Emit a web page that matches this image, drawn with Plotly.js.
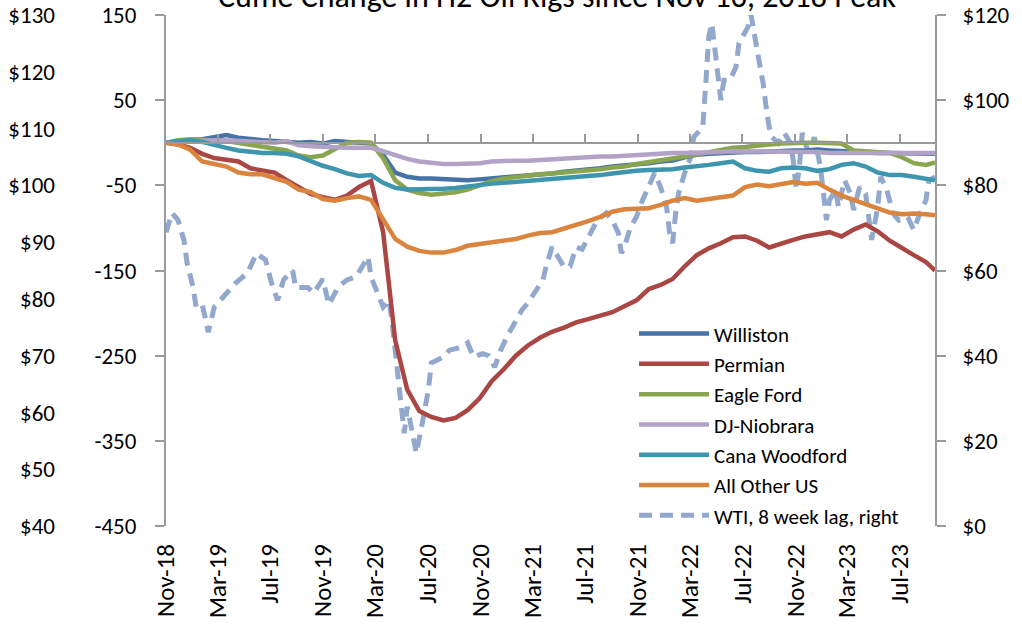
<!DOCTYPE html>
<html>
<head>
<meta charset="utf-8">
<script src="https://cdn.plot.ly/plotly-3.0.1.min.js"></script>
<style>html,body{margin:0;padding:0;background:#fff;}#chart{width:1022px;height:625px;}</style>
</head>
<body>
<div id="chart"></div>
<script>
// ---- Data (weeks since Nov 16, 2018) ----
const rigWeeks = [0,4,8,12,16,20,24,28,32,36,40,44,48,52,56,60,64,68,72,76,80,84,88,92,96,100,104,108,112,116,120,124,128,132,136,140,144,148,152,156,160,164,168,172,176,180,184,188,192,196,200,204,208,212,216,220,224,228,232,236,240,244,248,252,255];

const williston = [0,2,3,4,7,9,6,4,3,2,1,0,1,-1,2,1,0,-1,
  -14,-35,-40,-42,-42,-43,-43,-44,-43,-42,-41,-40,-39,
  -37,-36,-34,-33,-31,-30,-28,-27,-25,-24,-22,-21,-17,
  -14,-13,-12,-12,-11,-11,-10,-10,-9,-9,
  -8,-9,-10,-10,-11,-12,-12,-12,-13,-13,-13];

const permian = [0,-2,-6,-13,-18,-20,-22,-30,-32,-35,-44,-52,-60,-64,-67,-62,-52,-45,
  -105,-232,-290,-315,-322,-326,-323,-314,-300,-280,-266,-250,-238,
  -229,-222,-217,-211,-207,-203,-199,-192,-185,-172,-167,-160,-145,
  -132,-124,-118,-111,-110,-115,-123,-118,-114,-110,
  -107,-105,-110,-102,-96,-104,-115,-124,-132,-140,-150];

const eagleFord = [0,3,4,4,3,2,0,-3,-5,-7,-9,-15,-17,-15,-8,0,1,0,
  -18,-44,-55,-59,-61,-60,-58,-55,-50,-45,-42,-40,-39,
  -37,-36,-35,-34,-32,-31,-29,-28,-25,-23,-21,-19,-17,
  -14,-11,-8,-6,-5,-3,-2,-1,0,0,
  0,0,-1,-9,-10,-10,-12,-17,-24,-26,-23];

const djNiobrara = [0,1,2,3,3,3,2,2,1,0,2,-3,-4,-5,-5,-6,-6,-6,
  -10,-15,-19,-22,-24,-25,-25,-25,-24,-22,-21,-21,-21,
  -20,-20,-19,-18,-17,-16,-16,-15,-14,-14,-13,-12,-12,
  -12,-11,-11,-10,-10,-10,-10,-10,-11,-11,
  -11,-12,-12,-12,-13,-13,-12,-12,-12,-12,-12];

const canaWoodford = [0,2,3,1,-3,-6,-9,-11,-12,-12,-13,-16,-22,-27,-31,-36,-39,-38,
  -47,-53,-55,-55,-55,-54,-53,-51,-49,-48,-47,-46,-45,
  -44,-43,-42,-41,-40,-38,-36,-34,-33,-32,-32,-31,-29,
  -28,-26,-24,-22,-30,-33,-34,-30,-29,-30,
  -33,-31,-26,-24,-28,-35,-38,-38,-40,-43,-44];

const allOtherUS = [0,-2,-8,-22,-25,-28,-35,-37,-37,-42,-46,-55,-58,-66,-68,-65,-63,-67,
  -90,-113,-122,-127,-129,-129,-126,-121,-119,-117,-114,-113,-109,
  -106,-105,-101,-97,-92,-87,-81,-78,-77,-77,-73,-68,-65,
  -68,-66,-64,-62,-52,-49,-51,-48,-46,-48,
  -47,-55,-62,-67,-72,-76,-82,-84,-83,-84,-85];

const wtiWeeks = [0,2,4,6,7,9,10,12,13,14,16,20,23,27,30,31,33,35,37,39,42,43,47,49,52,54,57,60,63,67,68,72,74,75,76,77,78,79,80,81,83,85,87,88,92,94,98,100,102,105,107,109,111,113,116,118,120,122,125,126,128,130,132,134,136,138,141,143,146,148,150,151,152,154,156,158,161,162,164,166,167,168,169,170,172,174,175,178,179,180,181,182,183,184,185,187,189,190,193,194,197,198,199,200,201,203,205,207,208,209,210,211,213,214,215,217,218,219,220,222,223,225,227,228,230,232,233,234,236,237,239,240,241,243,246,248,250,252,253,255];
const wti = [69,73.5,71.8,67,61.7,56,51.4,52,49,45.5,51.4,54.7,57,59.4,64,63.5,62.5,57,53,57.8,60,56,56,54.7,58,52,56,57.8,58.5,63.2,58.5,51.4,53,47.7,41.3,36,27.2,21.8,28,24,17.1,24.2,32,38.3,39.7,41.3,42,43,39.7,40.5,40,37.3,41.3,44.4,48.4,50.7,52.4,54.7,57.8,60.8,65.5,63.2,60.8,61,65.5,65,68.8,71.8,73.5,71.8,68.8,64.1,65.5,70.2,72.6,76.5,81.2,82.9,79.6,74.9,68.8,66.4,73.5,78.2,82.9,86.6,91.3,93.7,104,115,118,111.8,107,100,104.7,104.7,107.8,113.4,117.2,120,107.8,104,98.4,93.7,91.3,89.9,92.3,90,85.9,78.9,84.3,92.3,87.6,89,91.3,84.3,78.2,71.8,76.5,78.9,74.9,81.2,78,74.2,79.6,78,72.6,67.2,74.9,82,79,76.5,73.5,71.8,72.5,69.5,73.5,76.5,81.2,82];

const tickDates = ['2018-11-16','2019-03-16','2019-07-16','2019-11-16','2020-03-16','2020-07-16','2020-11-16','2021-03-16','2021-07-16','2021-11-16','2022-03-16','2022-07-16','2022-11-16','2023-03-16','2023-07-16'];
const tickLabels = ['Nov-18','Mar-19','Jul-19','Nov-19','Mar-20','Jul-20','Nov-20','Mar-21','Jul-21','Nov-21','Mar-22','Jul-22','Nov-22','Mar-23','Jul-23'];
const rigTickVals = [150, 50, -50, -150, -250, -350, -450];
const rigTickText = ['150', '50', '-50', '-150', '-250', '-350', '-450'];

const seriesNames = ['Williston','Permian','Eagle Ford','DJ-Niobrara','Cana Woodford','All Other US'];
const seriesValues = [williston, permian, eagleFord, djNiobrara, canaWoodford, allOtherUS];
const seriesColors = ['#4572A7','#AA4643','#89A54E','#B3A2C7','#3D96AE','#DB843D'];
const wtiName = 'WTI, 8 week lag, right';
const titleText = 'Cume Change in H2 Oil Rigs since Nov 16, 2018 Peak';

// ---- Build ----
const startMs = Date.UTC(2018, 10, 16);
const toDate = w => new Date(startMs + w * 7 * 86400000).toISOString().slice(0, 10);
const rigDates = rigWeeks.map(toDate);
const wtiDates = wtiWeeks.map(toDate);

const FONT = 'Carlito, Calibri, Lato, "Open Sans", sans-serif';
const GRAY = '#9a9a9a';

const traces = seriesNames.map((n, i) => ({
  type: 'scatter', mode: 'lines', name: n,
  x: rigDates, y: seriesValues[i], xaxis: 'x2', yaxis: 'y',
  line: {color: seriesColors[i], width: 4.5}
}));
traces.push({
  type: 'scatter', mode: 'lines', name: wtiName,
  x: wtiDates, y: wti, xaxis: 'x', yaxis: 'y2',
  line: {color: '#92A8CD', width: 5, dash: '13px,8px'}
});
traces.push({type: 'scatter', mode: 'lines', x: [], y: [], xaxis: 'x', yaxis: 'y3', showlegend: false, hoverinfo: 'skip'});

const xDomain = [(166 - 55) / 880, 1];
const xRange = ['2018-11-16', '2023-10-06'];

const layout = {
  width: 1022, height: 625,
  margin: {l: 55, r: 87, t: 15, b: 99, pad: 0},
  paper_bgcolor: '#ffffff', plot_bgcolor: 'rgba(0,0,0,0)',
  font: {family: FONT, size: 22, color: '#000'},
  showlegend: true,
  title: {text: titleText, font: {family: FONT, size: 32, color: '#000'},
          x: 0.545, xanchor: 'center', xref: 'container', y: 1, yref: 'paper', yanchor: 'bottom', pad: {b: 8}},
  xaxis: {
    type: 'date', domain: xDomain, range: xRange, anchor: 'y',
    tickmode: 'array', tickvals: tickDates, ticktext: tickLabels, tickangle: -90,
    ticks: '', showline: false, showgrid: false, zeroline: false,
    tickfont: {family: FONT, size: 25, color: '#000'}, ticklabelstandoff: 12
  },
  xaxis2: {
    type: 'date', overlaying: 'x', matches: 'x', anchor: 'free', position: 0.75, side: 'bottom',
    tickmode: 'array', tickvals: tickDates, ticks: 'inside', ticklen: 8, tickwidth: 2, tickcolor: GRAY,
    showticklabels: false, showline: true, linecolor: GRAY, linewidth: 2, showgrid: false, zeroline: false
  },
  yaxis: {
    range: [-450, 150], tickmode: 'array', tickvals: rigTickVals, ticktext: rigTickText, anchor: 'x', side: 'left',
    ticks: 'outside', ticklen: 9, tickwidth: 2, tickcolor: GRAY,
    showline: true, linecolor: GRAY, linewidth: 2, showgrid: false, zeroline: false,
    tickfont: {family: FONT, size: 23, color: '#000'}, ticklabelstandoff: 14
  },
  yaxis2: {
    range: [0, 120], tick0: 0, dtick: 20, tickprefix: '$', overlaying: 'y', anchor: 'x', side: 'right',
    ticks: 'outside', ticklen: 9, tickwidth: 2, tickcolor: GRAY,
    showline: true, linecolor: GRAY, linewidth: 2, showgrid: false, zeroline: false,
    tickfont: {family: FONT, size: 23, color: '#000'}, ticklabelstandoff: 12
  },
  yaxis3: {
    range: [40, 130], tick0: 40, dtick: 10, tickprefix: '$', overlaying: 'y', anchor: 'free', position: 0, side: 'left',
    ticks: '', showline: false, showgrid: false, zeroline: false,
    tickfont: {family: FONT, size: 23, color: '#000'}
  },
  legend: {
    x: 0.658, y: 0.416, xanchor: 'left', yanchor: 'top',
    bgcolor: 'rgba(255,255,255,0)', borderwidth: 0,
    font: {family: FONT, size: 21, color: '#000'},
    itemwidth: 70, traceorder: 'normal'
  }
};

Plotly.newPlot('chart', traces, layout, {displayModeBar: false, staticPlot: true});
</script>
</body>
</html>
